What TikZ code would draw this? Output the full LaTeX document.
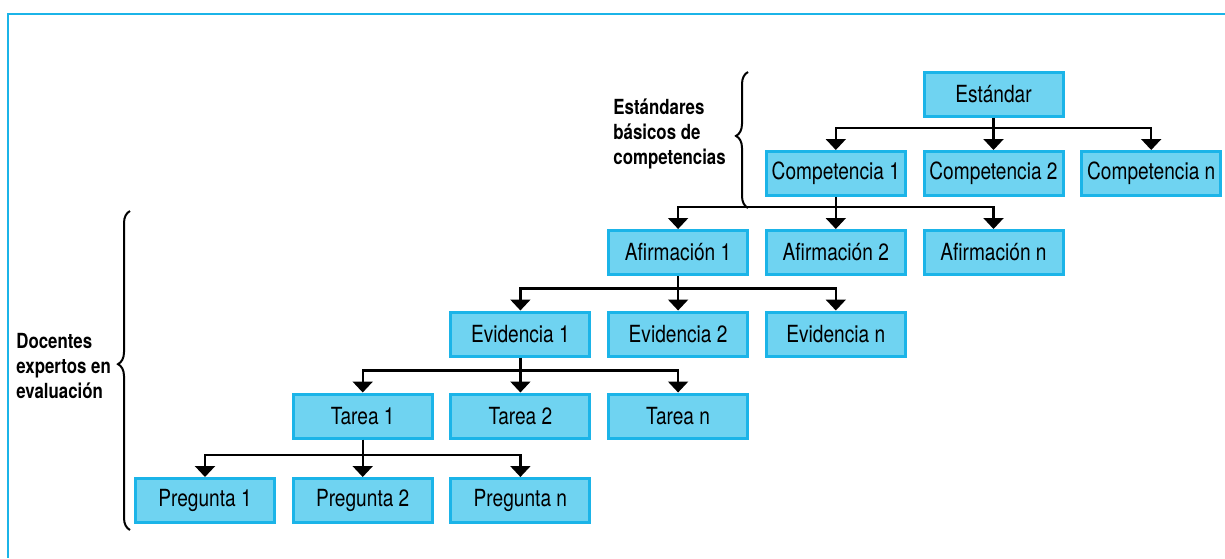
\documentclass[tikz,border=0pt]{standalone}
\usepackage{fontspec}
\setmainfont[FakeStretch=0.81]{TeX Gyre Heros}
\usetikzlibrary{arrows.meta,calc,decorations.pathreplacing}
\definecolor{boxfill}{HTML}{6FD3F1}
\definecolor{boxline}{HTML}{1BB4E8}
\tikzset{>/.tip={Triangle[width=10pt,length=5.5pt]},
  nivel/.style={draw=boxline, fill=boxfill, line width=1.5pt, minimum width=69.5pt,
    minimum height=22pt, inner sep=0pt, font=\fontsize{11.8}{14}\selectfont},
  flecha/.style={->, line width=1.1pt},
  llave/.style={decorate, decoration={brace, amplitude=6pt, aspect=#1}, line width=1pt},
  rotulo/.style={align=left, inner sep=0pt, anchor=west, font=\fontsize{10.4}{12.4}\selectfont\bfseries}}

\begin{document}
\begin{tikzpicture}[x=0.5pt, y=-0.5pt]
 \useasboundingbox (0,0) rectangle (1225,558);
 \draw[boxline, line width=0.9pt] (1225,14) -- (8,14) -- (8,558);

 \node[nivel] (est)    at (993.5,94)    {Estándar};
 \node[nivel] (comp1)  at (835.8,173.5) {Competencia 1};
 \node[nivel] (comp2)  at (993.5,173.5) {Competencia 2};
 \node[nivel] (compn)  at (1151.2,173.5){Competencia n};
 \node[nivel] (afir1)  at (678.1,252.5) {Afirmación 1};
 \node[nivel] (afir2)  at (835.8,252.5) {Afirmación 2};
 \node[nivel] (afirn)  at (993.5,252.5) {Afirmación n};
 \node[nivel] (evid1)  at (520.4,334)   {Evidencia 1};
 \node[nivel] (evid2)  at (678.1,334)   {Evidencia 2};
 \node[nivel] (evidn)  at (835.8,334)   {Evidencia n};
 \node[nivel] (tarea1) at (362.7,416)   {Tarea 1};
 \node[nivel] (tarea2) at (520.4,416)   {Tarea 2};
 \node[nivel] (tarean) at (678.1,416)   {Tarea n};
 \node[nivel] (preg1)  at (205,500.5)   {Pregunta 1};
 \node[nivel] (preg2)  at (362.7,500.5) {Pregunta 2};
 \node[nivel] (pregn)  at (520.4,500.5) {Pregunta n};

 \foreach \p/\a/\b/\c in {est/comp1/comp2/compn, comp1/afir1/afir2/afirn,
   afir1/evid1/evid2/evidn, evid1/tarea1/tarea2/tarean, tarea1/preg1/preg2/pregn} {
  \coordinate (barra) at ($(\b.north)+(0,-22)$);
  \draw[flecha] (\p.south) -- (\b.north);
  \draw[flecha] (\b.north |- barra) -| (\a.north);
  \draw[flecha] (\b.north |- barra) -| (\c.north);
 }

 \node[rotulo] (estandares) at (613,134) {Estándares\\básicos de\\competencias};
 \node[rotulo] (docentes)   at (16,366)  {Docentes\\expertos en\\evaluación};

 \coordinate (llaveA1) at (748,208);
 \coordinate (llaveA2) at (748,72);
 \coordinate (llaveB1) at (130,530);
 \coordinate (llaveB2) at (130,211);
 \draw[llave=0.53] (llaveA1) -- (llaveA2);
 \draw[llave=0.52] (llaveB1) -- (llaveB2);
\end{tikzpicture}
\end{document}
